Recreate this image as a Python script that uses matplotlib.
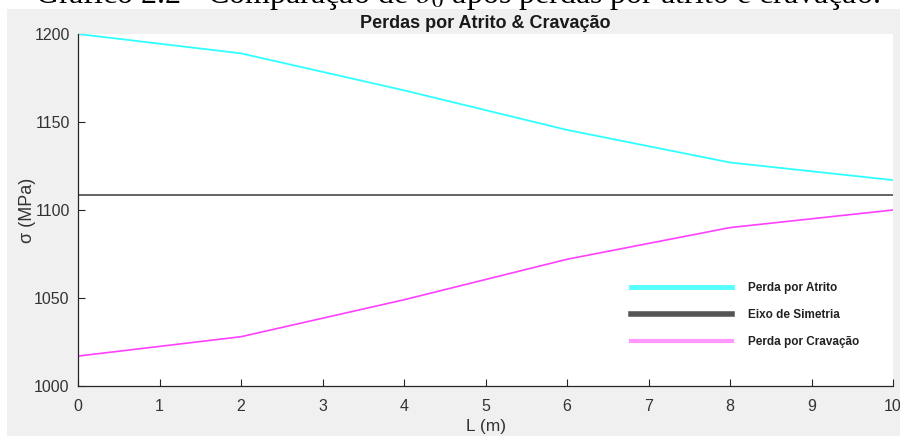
import matplotlib
matplotlib.use("Agg")
import matplotlib.pyplot as plt
from matplotlib.lines import Line2D
from matplotlib.patches import Rectangle

# Data
comprimento = [0, 2, 4, 6, 8, 10]
perda_atrito = [1200, 1189, 1168, 1145.5, 1127, 1117]
perda_cravacao = [1017, 1028, 1049, 1072, 1090, 1100]
eixo_x = [0, 10]
eixo_simetria = [1108.5, 1108.5]

x_ticks = list(range(0, 11))
y_ticks = [1000, 1050, 1100, 1150, 1200]
legenda = ["Perda por Atrito", "Eixo de Simetria", "Perda por Cravação"]

titulo = "Perdas por Atrito & Cravação"
legenda_grafico = "Gráfico 2.2 - Comparação de $\\sigma_0$ após perdas por atrito e cravação."

plt.rcParams["font.family"] = ["Liberation Sans", "DejaVu Sans"]
plt.rcParams["mathtext.fontset"] = "stix"

W, H = 900, 436
fig = plt.figure(figsize=(W / 100, H / 100), dpi=100, facecolor="white")

# grey window background
fig.patches.append(Rectangle((7 / W, 0), 1 - 7 / W, 1 - 9.5 / H, transform=fig.transFigure,
                             facecolor="#f0f0f0", edgecolor="none", zorder=-5))

# caption above the window
fig.text(457 / W, 1 - 3.5 / H, legenda_grafico, ha="center", va="baseline",
         family=["Liberation Serif", "DejaVu Serif"], fontsize=23, color="black")

ax = fig.add_axes([78 / W, 1 - 386 / H, (893 - 78) / W, (386 - 34) / H])
ax.set_facecolor("white")

ax.plot(comprimento, perda_atrito, color="#30ffff", lw=1.3)
ax.plot(eixo_x, eixo_simetria, color="#4a4a4a", lw=1.2)
ax.plot(comprimento, perda_cravacao, color="#ff40ff", lw=1.2)

ax.set_xlim(0, 10)
ax.set_ylim(1000, 1200)
ax.set_xticks(x_ticks)
ax.set_yticks(y_ticks)

for s in ["top", "right"]:
    ax.spines[s].set_visible(False)
for s in ["left", "bottom"]:
    ax.spines[s].set_color("#262626")
    ax.spines[s].set_linewidth(0.9)

ax.tick_params(direction="in", length=5, width=0.8, colors="#262626",
               labelcolor="#333333", labelsize=11.5)
ax.tick_params(axis="x", pad=9)
ax.tick_params(axis="y", pad=6)

ax.set_title(titulo, fontsize=13, fontweight="bold", color="#1a1a1a", pad=4)
ax.set_xlabel("L (m)", fontsize=12.5, color="#333333", labelpad=4)
ax.set_ylabel("σ (MPa)", fontsize=13, color="#333333", labelpad=-1)

handles = [
    Line2D([], [], color="#55ffff", lw=3.5),
    Line2D([], [], color="#555555", lw=4),
    Line2D([], [], color="#ff99ff", lw=3),
]
leg = ax.legend(handles, legenda, loc="upper left",
                bbox_to_anchor=(626 / W, 1 - 277 / H), bbox_transform=fig.transFigure,
                frameon=False, borderaxespad=0, handlelength=8.6, handletextpad=1.35,
                labelspacing=1.3, prop={"size": 8.5, "weight": "bold"})
for t in leg.get_texts():
    t.set_color("#222222")

fig.savefig("out.png", dpi=100, facecolor="white")
